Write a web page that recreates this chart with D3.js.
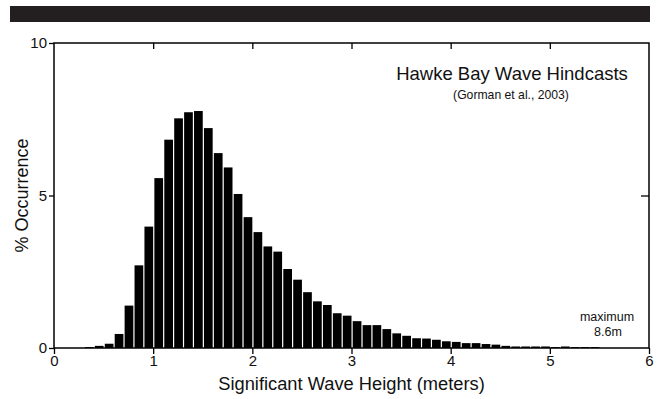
<!DOCTYPE html>
<html>
<head>
<meta charset="utf-8">
<script src="https://cdn.jsdelivr.net/npm/d3@7"></script>
<style>
  body { margin: 0; background: #fff; }
  text { font-family: "Liberation Sans", Arial, sans-serif; fill: #111; }
</style>
</head>
<body>
<svg id="chart" width="660" height="399"></svg>
<script>
// Lower edge of each 0.1 m bin (meters)
const binStarts = [0.3, 0.4, 0.5, 0.6, 0.7, 0.8, 0.9, 1.0, 1.1, 1.2, 1.3, 1.4, 1.5, 1.6, 1.7, 1.8, 1.9,
  2.0, 2.1, 2.2, 2.3, 2.4, 2.5, 2.6, 2.7, 2.8, 2.9, 3.0, 3.1, 3.2, 3.3, 3.4, 3.5, 3.6, 3.7, 3.8, 3.9,
  4.0, 4.1, 4.2, 4.3, 4.4, 4.5, 4.6, 4.7, 4.8, 4.9, 5.0, 5.1, 5.2, 5.3, 5.4];
// % occurrence in each bin
const occurrence = [0.03, 0.07, 0.14, 0.46, 1.39, 2.71, 3.98, 5.57, 6.83, 7.53, 7.73, 7.77, 7.21, 6.39, 5.92, 5.05, 4.29,
  3.80, 3.33, 3.16, 2.59, 2.24, 1.83, 1.53, 1.41, 1.14, 1.06, 0.88, 0.75, 0.75, 0.62, 0.48, 0.40, 0.32, 0.31, 0.27, 0.22,
  0.20, 0.16, 0.16, 0.13, 0.11, 0.07, 0.05, 0.05, 0.05, 0.05, 0.03, 0.05, 0.03, 0.03, 0.03];
const binWidth = 0.1;
const xTicks = [0, 1, 2, 3, 4, 5, 6];
const yTicks = [0, 5, 10];

const margin = { top: 43, right: 11, bottom: 51, left: 54 };
const width = 660, height = 399;

const svg = d3.select("#chart");

// dark banner at the top
svg.append("rect")
  .attr("x", 10).attr("y", 6)
  .attr("width", 640).attr("height", 16)
  .attr("fill", "#231f20");

const x = d3.scaleLinear().domain([0, 6]).range([margin.left, width - margin.right]);
const y = d3.scaleLinear().domain([0, 10]).range([height - margin.bottom, margin.top]);

const bins = binStarts.map((b, i) => ({ x0: b, x1: b + binWidth, value: occurrence[i] }));

// bars
svg.append("g")
  .selectAll("rect")
  .data(bins)
  .join("rect")
  .attr("x", d => x(d.x0) + 1.2)
  .attr("y", d => y(d.value))
  .attr("width", d => x(d.x1) - x(d.x0) - 1.2)
  .attr("height", d => y(0) - y(d.value))
  .attr("fill", "#000");

// axes
const axisStyle = g => {
  g.select(".domain").remove();
  g.selectAll("line").attr("stroke", "#000").attr("stroke-width", 1.3);
  g.selectAll("text").attr("font-size", 15).style("font-family", "'Liberation Sans', Arial, sans-serif").attr("fill", "#111");
};

svg.append("g")
  .attr("transform", `translate(0,${y(0)})`)
  .call(d3.axisBottom(x).tickValues(xTicks).tickSize(6).tickPadding(1).tickFormat(d3.format("d")))
  .call(axisStyle);

// top ticks point inward
svg.append("g")
  .attr("transform", `translate(0,${y(10)})`)
  .call(d3.axisBottom(x).tickValues(xTicks.slice(1, -1)).tickSize(6).tickFormat(""))
  .call(axisStyle);

svg.append("g")
  .attr("transform", `translate(${x(0)},0)`)
  .call(d3.axisLeft(y).tickValues(yTicks).tickSize(5).tickPadding(2).tickFormat(d3.format("d")))
  .call(axisStyle);

// right ticks point inward
svg.append("g")
  .attr("transform", `translate(${x(6)},0)`)
  .call(d3.axisLeft(y).tickValues([5]).tickSize(8).tickFormat(""))
  .call(axisStyle);

// frame
svg.append("rect")
  .attr("x", x(0)).attr("y", y(10))
  .attr("width", x(6) - x(0)).attr("height", y(0) - y(10))
  .attr("fill", "none")
  .attr("stroke", "#000")
  .attr("stroke-width", 1.5);

// axis titles
svg.append("text")
  .attr("x", (x(0) + x(6)) / 2)
  .attr("y", 390)
  .attr("text-anchor", "middle")
  .attr("font-size", 18.3)
  .text("Significant Wave Height (meters)");

svg.append("text")
  .attr("transform", `translate(28,${(y(0) + y(10)) / 2}) rotate(-90)`)
  .attr("text-anchor", "middle")
  .attr("font-size", 18)
  .text("% Occurrence");

// chart title and source
svg.append("text")
  .attr("x", 512).attr("y", 80)
  .attr("text-anchor", "middle")
  .attr("font-size", 18.5)
  .text("Hawke Bay Wave Hindcasts");

svg.append("text")
  .attr("x", 511).attr("y", 99)
  .attr("text-anchor", "middle")
  .attr("font-size", 12.2)
  .text("(Gorman et al., 2003)");

// maximum annotation
svg.append("text")
  .attr("x", 607).attr("y", 321)
  .attr("text-anchor", "middle")
  .attr("font-size", 12.5)
  .text("maximum");

svg.append("text")
  .attr("x", 608).attr("y", 336)
  .attr("text-anchor", "middle")
  .attr("font-size", 12.5)
  .text("8.6m");
</script>
</body>
</html>
